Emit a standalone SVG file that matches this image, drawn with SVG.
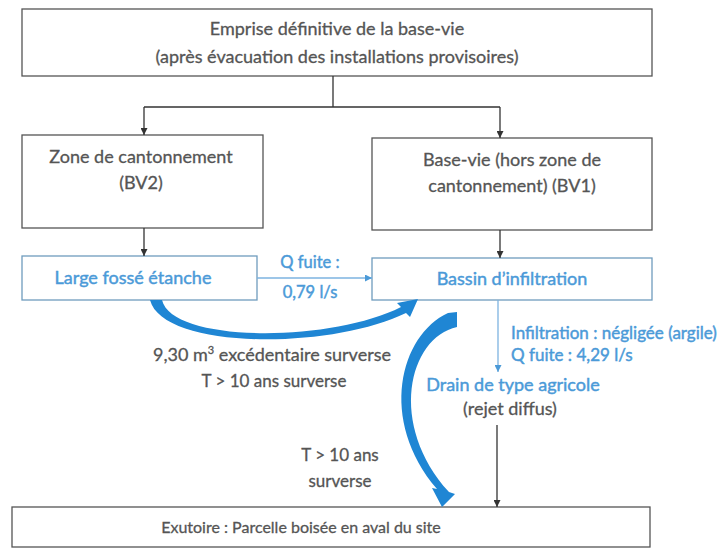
<svg xmlns="http://www.w3.org/2000/svg" width="719" height="549" viewBox="0 0 719 549">
<style>
.box{fill:#fff;stroke:#555;stroke-width:1.3}
.bbox{fill:#fff;stroke:#6f9cbd;stroke-width:1.3}
.t{font-family:Lato,"Liberation Sans",sans-serif;font-size:18px;fill:#555;stroke:#555;stroke-width:0.3;text-anchor:middle}
.tb{font-family:Lato,"Liberation Sans",sans-serif;font-size:18px;fill:#4b9ad8;stroke:#4b9ad8;stroke-width:0.45;text-anchor:middle}
.tbl{font-family:Lato,"Liberation Sans",sans-serif;font-size:17px;fill:#4b9ad8;stroke:#4b9ad8;stroke-width:0.45}
.ln{stroke:#333;stroke-width:1.3;fill:none}
.lb{stroke:#7db3e0;stroke-width:1.3;fill:none}
.arc{fill:#1f86d4}
</style>
<defs>
<marker id="ah" viewBox="0 0 10 10" refX="10" refY="5" markerWidth="7" markerHeight="7" markerUnits="userSpaceOnUse" orient="auto"><path d="M0,0 L10,5 L0,10 z" fill="#333"/></marker>
<marker id="ahb" viewBox="0 0 10 10" refX="10" refY="5" markerWidth="7" markerHeight="7" markerUnits="userSpaceOnUse" orient="auto"><path d="M0,0 L10,5 L0,10 z" fill="#4b9ad8"/></marker>
</defs>
<rect width="719" height="549" fill="#fff"/>
<g id="n-emprise"><rect class="box" x="22" y="9" width="630" height="67"/>
<text class="t" x="337" y="35">Emprise définitive de la base-vie</text>
<text class="t" x="337" y="63">(après évacuation des installations provisoires)</text></g>
<g id="n-zone"><rect class="box" x="22" y="135" width="241" height="93"/>
<text class="t" x="141" y="163">Zone de cantonnement</text>
<text class="t" x="141" y="189">(BV2)</text></g>
<g id="n-basevie"><rect class="box" x="372" y="138" width="280" height="92"/>
<text class="t" x="512" y="166">Base-vie (hors zone de</text>
<text class="t" x="512" y="192">cantonnement) (BV1)</text></g>
<g id="n-fosse"><rect class="bbox" x="22" y="256" width="235" height="44"/>
<text class="tb" x="133" y="284">Large fossé étanche</text></g>
<g id="n-bassin"><rect class="bbox" x="372" y="258" width="280" height="42"/>
<text class="tb" x="512" y="285">Bassin d’infiltration</text></g>
<g id="n-drain"><text class="tb" x="513" y="391">Drain de type agricole</text>
<text class="t" x="510" y="415">(rejet diffus)</text></g>
<g id="n-exutoire"><rect class="box" x="12" y="507" width="638" height="40"/>
<text class="t" x="301" y="533" style="font-size:16px">Exutoire : Parcelle boisée en aval du site</text></g>
<g id="connectors">
<path class="ln" d="M333,76 V107 M144,107 H500"/>
<path class="ln" d="M144,107 V135" marker-end="url(#ah)"/>
<path class="ln" d="M500,107 V138" marker-end="url(#ah)"/>
<path class="ln" d="M144,228 V256" marker-end="url(#ah)"/>
<path class="ln" d="M500,230 V258" marker-end="url(#ah)"/>
<path class="lb" d="M257,278 H372" marker-end="url(#ahb)"/>
<path class="lb" d="M498,300 V372" marker-end="url(#ahb)"/>
<path class="ln" d="M497,425 V507" marker-end="url(#ah)"/>
<path class="arc" d="M162,300 C172,343 330,343 401,307 L397,303 L418,299 L410,317 L406,313 C330,350 163,350 150,300 Z"/>
<path class="arc" d="M448,313 C400,335 378,420 437,489 L432,488 L442,507 L455,494 L449,492 C388,425 408,338 457,327 L457,312 Z"/>
<text class="tb" x="310" y="268" style="font-size:16.5px">Q fuite :</text>
<text class="tb" x="310" y="298" style="font-size:16.5px">0,79 l/s</text>
<text class="t" x="272" y="361">9,30 m<tspan dy="-7" font-size="11">3</tspan><tspan dy="7"> excédentaire surverse</tspan></text>
<text class="t" x="274" y="387" style="font-size:17px">T &gt; 10 ans surverse</text>
<text class="t" x="340" y="461" style="font-size:17px">T &gt; 10 ans</text>
<text class="t" x="340" y="487" style="font-size:17px">surverse</text>
<text class="tbl" x="511" y="339">Infiltration : négligée (argile)</text>
<text class="tbl" x="511" y="361">Q fuite : 4,29 l/s</text>
</g>
</svg>
